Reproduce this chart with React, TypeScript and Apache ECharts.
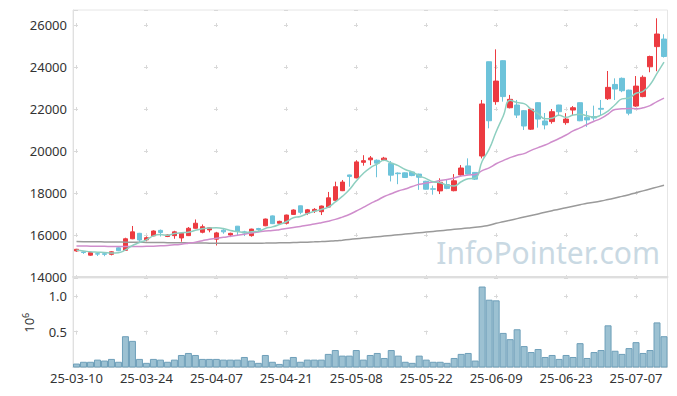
import React, { useEffect, useRef } from "react";
import * as echarts from "echarts";

const dates = [
  "25-03-10","25-03-11","25-03-12","25-03-13","25-03-14","25-03-17","25-03-18","25-03-19","25-03-20","25-03-21",
  "25-03-24","25-03-25","25-03-26","25-03-27","25-03-28","25-03-31","25-04-01","25-04-02","25-04-03","25-04-04",
  "25-04-07","25-04-08","25-04-09","25-04-10","25-04-11","25-04-14","25-04-15","25-04-16","25-04-17","25-04-18",
  "25-04-21","25-04-22","25-04-23","25-04-24","25-04-25","25-04-28","25-04-29","25-04-30","25-05-02","25-05-07",
  "25-05-08","25-05-09","25-05-12","25-05-13","25-05-14","25-05-15","25-05-16","25-05-19","25-05-20","25-05-21",
  "25-05-22","25-05-23","25-05-26","25-05-27","25-05-28","25-05-29","25-05-30","25-06-02","25-06-04","25-06-05",
  "25-06-09","25-06-10","25-06-11","25-06-12","25-06-13","25-06-16","25-06-17","25-06-18","25-06-19","25-06-20",
  "25-06-23","25-06-24","25-06-25","25-06-26","25-06-27","25-06-30","25-07-01","25-07-02","25-07-03","25-07-04",
  "25-07-07","25-07-08","25-07-09","25-07-10","25-07-11",
];

const opens = [
  15240,15190,15040,15110,15110,15080,15390,15270,15820,16080,
  15770,15960,16220,15930,15970,15860,15970,16320,16130,16240,
  15800,16230,16000,16420,16150,15970,16310,16440,16910,16560,
  16560,16980,17390,17040,17140,17110,17330,17650,18110,18860,
  18720,19460,19580,19560,19570,19410,18950,18960,19000,18900,
  18560,18200,18100,18400,18110,18860,19290,18980,19760,24250,
  22350,24300,22060,22190,21920,21040,22300,21430,21400,22190,
  21350,21950,22300,21600,21640,22030,22490,23170,23460,22900,
  22140,22590,24010,24970,25330,
];

const closes = [
  15320,15170,15160,15090,15080,15200,15250,15820,16150,15760,
  15870,16190,16120,16000,16150,16080,16320,16560,16395,16340,
  16100,16150,16080,16170,16090,16280,16260,16760,16540,16650,
  16950,17190,17080,17200,17220,17380,17770,18300,18520,18790,
  19480,19540,19670,19420,19660,18850,18920,18740,18830,18750,
  18180,18180,18510,18220,18580,19190,18900,18660,22240,21440,
  23330,22590,22460,21710,21190,21990,21520,21240,21870,21870,
  21520,22060,21440,21480,21570,21990,23030,22950,22870,21800,
  23090,23510,24500,25570,24500,
];

const lows = [
  15200,15100,15010,15000,14990,15030,15230,15240,15800,15680,
  15700,15940,15930,15900,15820,15680,15950,16300,16080,16130,
  15500,16060,15900,15950,15950,15920,16200,16420,16520,16530,
  16500,16960,16990,16950,17050,16950,17300,17600,18090,18300,
  18700,19300,19330,18750,19520,18550,18420,18720,18800,18150,
  18160,17920,17950,18180,18080,18820,18880,18620,19650,21080,
  22200,22350,22030,21570,21000,21000,21110,21030,21300,21700,
  21250,21700,21420,21150,21450,21710,22430,22430,22800,21700,
  22100,22560,23750,23800,24450,
];

const highs = [
  15340,15220,15180,15150,15140,15230,15420,15870,16430,16100,
  15930,16220,16260,16030,16200,16120,16380,16740,16500,16370,
  16150,16280,16110,16430,16200,16300,16340,16780,16930,16680,
  16970,17220,17400,17240,17280,17400,18050,18540,18620,18870,
  19560,19800,19760,19600,19720,19520,18980,18980,19020,18920,
  18580,18350,18700,18650,18900,19330,19650,19000,22430,24260,
  24840,24320,22670,22430,21950,22050,22320,21810,22000,22200,
  21800,22140,22320,21900,22160,22430,23810,23460,23500,22920,
  23570,23600,24540,26320,25560,
];

// volume, in millions of shares
const volumes = [
  0.055,0.08,0.08,0.11,0.097,0.12,0.08,0.437,0.372,0.12,
  0.065,0.12,0.11,0.08,0.11,0.175,0.203,0.175,0.12,0.12,
  0.12,0.11,0.11,0.11,0.147,0.097,0.065,0.175,0.08,0.05,
  0.11,0.147,0.08,0.11,0.11,0.11,0.19,0.244,0.166,0.166,
  0.244,0.11,0.175,0.203,0.133,0.244,0.166,0.08,0.065,0.166,
  0.11,0.08,0.08,0.065,0.133,0.19,0.203,0.097,1.131,0.947,
  0.938,0.483,0.396,0.534,0.299,0.216,0.258,0.147,0.175,0.12,
  0.175,0.147,0.34,0.133,0.216,0.244,0.589,0.234,0.19,0.271,
  0.354,0.203,0.244,0.63,0.437,
];

// moving-average values read from the chart where earlier closes are not shown
const ma5Head = [15270, 15240, 15200, 15180];
const ma20Head = [
  15480,15475,15470,15465,15460,15455,15450,15450,15450,15455,
  15460,15470,15485,15505,15530,15565,15610,15660,15730,
];
const ma120 = [
  15685,15682,15679,15676,15672,15668,15664,15660,15656,15652,
  15648,15644,15640,15636,15632,15628,15624,15620,15616,15612,
  15609,15607,15605,15605,15606,15608,15611,15615,15620,15626,
  15633,15641,15650,15660,15673,15688,15705,15722,15755,15788,
  15820,15852,15884,15916,15948,15980,16012,16044,16076,16108,
  16140,16172,16204,16236,16268,16300,16333,16366,16410,16460,
  16557,16630,16705,16780,16855,16930,17005,17080,17155,17230,
  17300,17370,17440,17510,17560,17620,17690,17760,17840,17920,
  18010,18100,18190,18280,18370,
];

const priceTicks = { min: 14000, max: 26714, step: 2000 };
const volTicks = { min: 0, max: 1.25, step: 0.5 };

function movingAverage(n: number, head: number[]): number[] {
  return closes.map((_, i) => {
    if (i < n - 1) return head[i];
    let s = 0;
    for (let j = i - n + 1; j <= i; j++) s += closes[j];
    return Math.round(s / n);
  });
}

const FONT = "'Noto Sans', 'DejaVu Sans', sans-serif";
const RED = "#ec3b41";
const BLUE = "#6dc3da";
const GRID_MARK = "#d9d9d9";

export default function App() {
  const ref = useRef<HTMLDivElement>(null);

  useEffect(() => {
    if (!ref.current) return;
    const chart = echarts.init(ref.current, null, { renderer: "svg" });
    const ma5 = movingAverage(5, ma5Head);
    const ma20 = movingAverage(20, ma20Head);
    const candles = dates.map((_, i) => [opens[i], closes[i], lows[i], highs[i]]);

    chart.setOption({
      animation: false,
      backgroundColor: "#ffffff",
      textStyle: { fontFamily: FONT },
      grid: [
        { left: 73, right: 9.5, top: 10, height: 267, show: true, borderColor: "#e6e6e6", borderWidth: 1 },
        { left: 73, right: 9.5, top: 278, height: 89.5, show: true, borderColor: "#e6e6e6", borderWidth: 1 },
      ],
      graphic: [
        {
          type: "text",
          right: 17,
          top: 237,
          z: 0,
          style: {
            text: "InfoPointer.com",
            fontSize: 30,
            fontFamily: FONT,
            fill: "#c9d9e3",
          },
        },
      ],
      xAxis: [
        {
          type: "category",
          gridIndex: 0,
          data: dates,
          boundaryGap: true,
          axisLine: { show: true, lineStyle: { color: "#dedede", width: 2 } },
          axisTick: { show: false },
          axisLabel: { show: false },
          splitLine: {
            show: true,
            interval: 9,
            alignWithLabel: true,
            lineStyle: { color: GRID_MARK, width: 1, type: [4, 38], dashOffset: 29 },
          },
        },
        {
          type: "category",
          gridIndex: 1,
          data: dates,
          boundaryGap: true,
          axisLine: { show: true, lineStyle: { color: "#e0e0e0" } },
          axisTick: { show: false },
          axisLabel: { interval: 9, fontSize: 13, color: "#333", margin: 4, fontFamily: FONT },
          splitLine: {
            show: true,
            interval: 9,
            alignWithLabel: true,
            lineStyle: { color: GRID_MARK, width: 1, type: [4, 32.3], dashOffset: 20.3 },
          },
        },
      ],
      yAxis: [
        {
          type: "value",
          gridIndex: 0,
          min: priceTicks.min,
          max: priceTicks.max,
          interval: priceTicks.step,
          axisLine: { show: true, lineStyle: { color: "#e0e0e0" } },
          axisTick: { show: false },
          axisLabel: {
            fontSize: 13,
            color: "#333",
            margin: 6,
            fontFamily: FONT,
            formatter: (v: number) => (v % priceTicks.step === 0 ? String(v) : ""),
          },
          splitLine: {
            show: true,
            lineStyle: { color: GRID_MARK, width: 1, type: [4, 66], dashOffset: 68.5 },
          },
        },
        {
          type: "value",
          gridIndex: 1,
          min: volTicks.min,
          max: volTicks.max,
          interval: volTicks.step,
          name: "{a|10}{b|6}",
          nameLocation: "middle",
          nameRotate: 90,
          nameGap: 36,
          nameTextStyle: {
            rich: {
              a: { fontSize: 13, color: "#333", fontFamily: FONT, lineHeight: 16 },
              b: { fontSize: 9, color: "#333", fontFamily: FONT, verticalAlign: "top", lineHeight: 16 },
            },
          },
          axisLine: { show: true, lineStyle: { color: "#e0e0e0" } },
          axisTick: { show: false },
          axisLabel: {
            fontSize: 13,
            color: "#333",
            margin: 6,
            fontFamily: FONT,
            formatter: (v: number) => {
              const r = v / volTicks.step;
              return v > 0 && Math.abs(r - Math.round(r)) < 1e-9 ? v.toFixed(1) : "";
            },
          },
          splitLine: {
            show: true,
            lineStyle: { color: GRID_MARK, width: 1, type: [4, 66], dashOffset: 68.5 },
          },
        },
      ],
      series: [
        {
          type: "candlestick",
          xAxisIndex: 0,
          yAxisIndex: 0,
          data: candles,
          barWidth: 5,
          itemStyle: {
            color: RED,
            color0: BLUE,
            borderColor: RED,
            borderColor0: BLUE,
            borderWidth: 1,
          },
        },
        {
          type: "line",
          xAxisIndex: 0,
          yAxisIndex: 0,
          data: ma120,
          symbol: "none",
          smooth: true,
          lineStyle: { color: "#9a9a9a", width: 1.5 },
        },
        {
          type: "line",
          xAxisIndex: 0,
          yAxisIndex: 0,
          data: ma20,
          symbol: "none",
          smooth: true,
          lineStyle: { color: "#cf8dcc", width: 1.5 },
        },
        {
          type: "line",
          xAxisIndex: 0,
          yAxisIndex: 0,
          data: ma5,
          symbol: "none",
          smooth: true,
          lineStyle: { color: "#8ecfc0", width: 1.5 },
        },
        {
          type: "bar",
          xAxisIndex: 1,
          yAxisIndex: 1,
          data: volumes,
          barWidth: "100%",
          itemStyle: { color: "#9cc1d2", borderColor: "#6e9fb9", borderWidth: 1 },
        },
      ],
    });

    return () => chart.dispose();
  }, []);

  return (
    <div
      ref={ref}
      style={{ position: "fixed", left: 0, top: 0, width: 677, height: 396 }}
    />
  );
}
